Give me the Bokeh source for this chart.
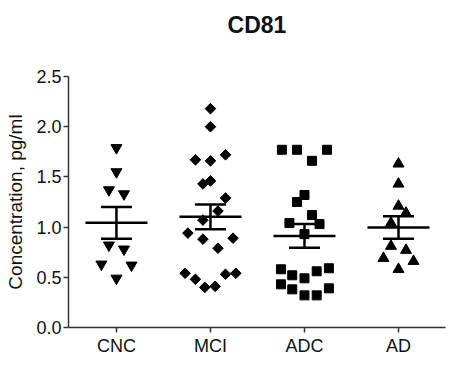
import numpy as np
from bokeh.plotting import figure
from bokeh.models import Range1d, FixedTicker, PrintfTickFormatter, Title
from bokeh.embed import file_html
from bokeh.resources import INLINE

title_text = "CD81"
categories = ["CNC", "MCI", "ADC", "AD"]
positions = [1, 2, 3, 4]

cnc_vals = [1.79, 1.55, 1.37, 1.33, 0.82, 0.78, 0.63, 0.62, 0.49]
cnc_jit = [0.0, 0.0, -0.08, 0.08, -0.08, 0.08, -0.16, 0.16, 0.0]

mci_vals = [2.18, 2.00, 1.67, 1.66, 1.72, 1.43, 1.46, 1.29, 1.16, 1.07,
            0.94, 0.88, 0.89, 0.79, 0.54, 0.48, 0.53, 0.54, 0.40, 0.41]
mci_jit = [0.0, 0.0, -0.16, 0.0, 0.16, -0.08, 0.0, 0.16, 0.08, -0.08,
           -0.24, -0.08, 0.24, 0.08, -0.27, -0.16, 0.16, 0.27, -0.06, 0.05]

adc_vals = [1.77, 1.77, 1.77, 1.66, 1.32, 1.25, 1.12, 1.04, 1.03, 0.93,
            0.58, 0.52, 0.49, 0.56, 0.59, 0.43, 0.38, 0.32, 0.32, 0.39]
adc_jit = [-0.24, -0.08, 0.24, 0.08, 0.0, -0.08, 0.08, -0.16, 0.16, 0.0,
           -0.25, -0.13, 0.0, 0.13, 0.26, -0.25, -0.13, 0.0, 0.13, 0.26]

ad_vals = [1.63, 1.43, 1.21, 1.14, 1.04, 0.81, 0.77, 0.69, 0.66, 0.58]
ad_jit = [0.0, 0.0, 0.0, 0.08, -0.08, -0.08, 0.08, -0.16, 0.16, 0.0]

groups = [
    (cnc_vals, cnc_jit, "inverted_triangle", 11, 0),
    (mci_vals, mci_jit, "square", 7.5, np.pi / 4),
    (adc_vals, adc_jit, "square", 9, 0),
    (ad_vals, ad_jit, "triangle", 11, 0),
]

FONT = "Liberation Sans"

p = figure(width=461, height=367, output_backend="svg", toolbar_location=None,
           x_range=Range1d(0.49, 4.5), y_range=Range1d(0.0, 2.5),
           min_border_left=68, min_border_right=16, min_border_top=76,
           min_border_bottom=40)
p.outline_line_color = None
p.grid.visible = False
p.background_fill_color = "white"

# invisible spacer title (closest to the frame), then the real title above it
p.add_layout(Title(text=" ", text_font=FONT, text_font_size="22px",
                   standoff=12), "above")
p.add_layout(Title(text=title_text, align="center", text_font=FONT,
                   text_font_size="23px", text_font_style="bold",
                   text_color="#111111", standoff=0), "above")

for pos, (vals, jit, marker, size, ang) in zip(positions, groups):
    xs = [pos + j for j in jit]
    p.scatter(xs, vals, marker=marker, size=size, angle=ang,
              fill_color="black", line_color="black")
    arr = np.array(vals)
    m = arr.mean()
    sem = arr.std(ddof=1) / np.sqrt(len(arr))
    p.segment(x0=[pos - 0.33], y0=[m], x1=[pos + 0.33], y1=[m],
              line_color="black", line_width=2.5)
    p.segment(x0=[pos - 0.165, pos - 0.165, pos], y0=[m + sem, m - sem, m - sem],
              x1=[pos + 0.165, pos + 0.165, pos], y1=[m + sem, m - sem, m + sem],
              line_color="black", line_width=2.5)

for ax in (p.xaxis[0], p.yaxis[0]):
    ax.axis_line_color = "#333333"
    ax.axis_line_width = 1.5
    ax.major_tick_line_color = "#333333"
    ax.major_tick_line_width = 1.5
    ax.major_tick_in = 0
    ax.minor_tick_line_color = None
    ax.major_label_text_font = FONT
    ax.major_label_text_font_size = "18px"
    ax.major_label_text_color = "#111111"

p.xaxis.ticker = FixedTicker(ticks=positions)
p.xaxis.major_label_overrides = {pos: c for pos, c in zip(positions, categories)}
p.xaxis.major_tick_out = 5
p.xaxis.major_label_standoff = 3

p.yaxis.ticker = FixedTicker(ticks=[0, 0.5, 1.0, 1.5, 2.0, 2.5])
p.yaxis.formatter = PrintfTickFormatter(format="%.1f")
p.yaxis.major_tick_out = 5
p.yaxis.major_label_standoff = 2
p.yaxis.axis_label = "Concentration, pg/ml"
p.yaxis.axis_label_text_font = FONT
p.yaxis.axis_label_text_font_size = "19px"
p.yaxis.axis_label_text_font_style = "normal"
p.yaxis.axis_label_text_color = "#111111"
p.yaxis.axis_label_standoff = 7

open("out.html", "w").write(file_html(p, INLINE))
